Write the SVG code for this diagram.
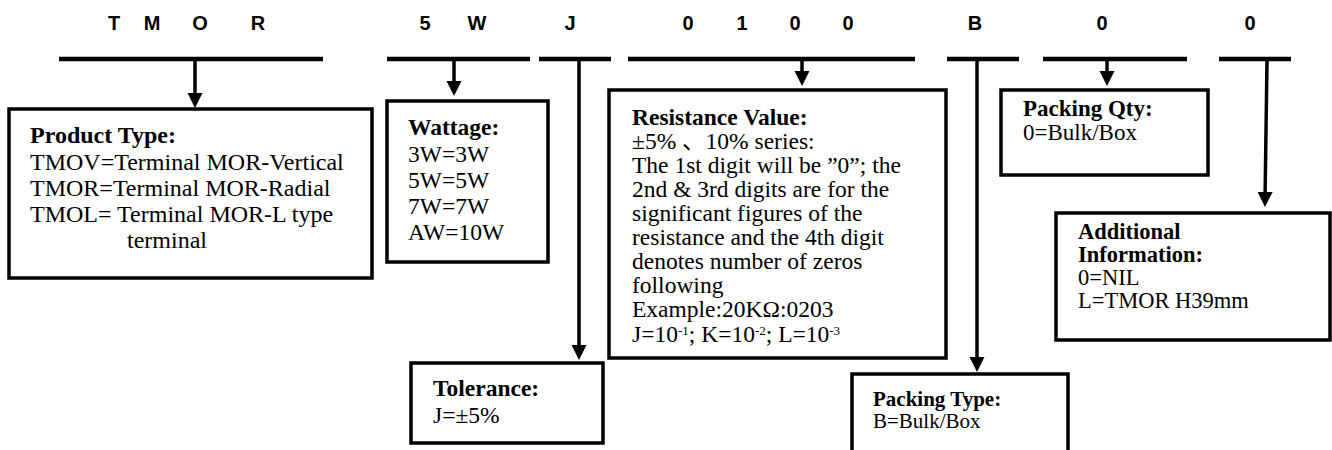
<svg xmlns="http://www.w3.org/2000/svg" width="1332" height="450" viewBox="0 0 1332 450">
<style>
.code{font-family:"Liberation Sans",Arial,sans-serif;font-weight:bold;font-size:20px;fill:#000;text-anchor:middle}
.box{fill:#fff;stroke:#000;stroke-width:3.5}
.t{font-family:"Liberation Serif","Times New Roman","Noto Sans CJK SC",serif;font-size:23.5px;fill:#000}
.b{font-weight:bold}
.sup{font-size:13px}
.bar{stroke:#000;stroke-width:4.5;fill:none}
.arr{stroke:#000;stroke-width:3.5;fill:none;marker-end:url(#ah)}
</style>
<defs>
<marker id="ah" markerUnits="userSpaceOnUse" markerWidth="16" markerHeight="16" viewBox="0 0 16 16" refX="9" refY="8" orient="auto">
<path d="M0,0.5 L15,8 L0,15.5 z" fill="#000"/>
</marker>
</defs>
<rect width="1332" height="450" fill="#fff"/>
<g id="code">
<text class="code" x="114" y="30">T</text>
<text class="code" x="152" y="30">M</text>
<text class="code" x="200" y="30">O</text>
<text class="code" x="258" y="30">R</text>
<text class="code" x="425" y="30">5</text>
<text class="code" x="477" y="30">W</text>
<text class="code" x="570" y="30">J</text>
<text class="code" x="688" y="30">0</text>
<text class="code" x="742" y="30">1</text>
<text class="code" x="795" y="30">0</text>
<text class="code" x="848" y="30">0</text>
<text class="code" x="975" y="30">B</text>
<text class="code" x="1102" y="30">0</text>
<text class="code" x="1250" y="30">0</text>
</g>
<g id="connectors">
<line class="bar" x1="59" y1="59" x2="323" y2="59"/>
<line class="bar" x1="387" y1="59" x2="530" y2="59"/>
<line class="bar" x1="539" y1="59" x2="611" y2="59"/>
<line class="bar" x1="628" y1="59" x2="915" y2="59"/>
<line class="bar" x1="947" y1="59" x2="1019" y2="59"/>
<line class="bar" x1="1043" y1="59" x2="1187" y2="59"/>
<line class="bar" x1="1219" y1="59" x2="1291" y2="59"/>
<line class="arr" x1="195" y1="60" x2="195" y2="102"/>
<line class="arr" x1="454" y1="60" x2="454" y2="90"/>
<line class="arr" x1="579" y1="60" x2="579" y2="354"/>
<line class="arr" x1="802" y1="60" x2="802" y2="80"/>
<line class="arr" x1="977" y1="60" x2="977" y2="366"/>
<line class="arr" x1="1107" y1="60" x2="1107" y2="80"/>
<line class="arr" x1="1267" y1="61" x2="1265" y2="201"/>
</g>
<g id="product-type">
<rect class="box" x="9" y="109" width="363" height="169"/>
<text class="t" x="30" y="143" style="font-size:24px"><tspan class="b">Product Type:</tspan><tspan x="30" y="169.5">TMOV=Terminal MOR-Vertical</tspan><tspan x="30" y="196">TMOR=Terminal MOR-Radial</tspan><tspan x="30" y="222">TMOL= Terminal MOR-L type</tspan><tspan x="127" y="248">terminal</tspan></text>
</g>
<g id="wattage">
<rect class="box" x="387" y="101" width="161" height="161"/>
<text class="t" x="408" y="135"><tspan class="b">Wattage:</tspan><tspan x="408" y="162">3W=3W</tspan><tspan x="408" y="188">5W=5W</tspan><tspan x="408" y="214">7W=7W</tspan><tspan x="408" y="240">AW=10W</tspan></text>
</g>
<g id="tolerance">
<rect class="box" x="411" y="363" width="192" height="80"/>
<text class="t" x="433" y="396"><tspan class="b">Tolerance:</tspan><tspan x="433" y="423">J=±5%</tspan></text>
</g>
<g id="resistance-value">
<rect class="box" x="609" y="90" width="337" height="268"/>
<text class="t" x="632" y="125"><tspan class="b">Resistance Value:</tspan><tspan x="632" y="149">±5% 、10% series:</tspan><tspan x="632" y="173">The 1st digit will be ”0”; the</tspan><tspan x="632" y="197">2nd &amp; 3rd digits are for the</tspan><tspan x="632" y="221">significant figures of the</tspan><tspan x="632" y="245">resistance and the 4th digit</tspan><tspan x="632" y="269">denotes number of zeros</tspan><tspan x="632" y="293">following</tspan><tspan x="632" y="317">Example:20KΩ:0203</tspan><tspan x="632" y="342">J=10</tspan><tspan class="sup" dy="-7">-1</tspan><tspan dy="7">; K=10</tspan><tspan class="sup" dy="-7">-2</tspan><tspan dy="7">; L=10</tspan><tspan class="sup" dy="-7">-3</tspan></text>
</g>
<g id="packing-type">
<rect class="box" x="852" y="374" width="216" height="90"/>
<text class="t" x="873" y="406" style="font-size:21px"><tspan class="b">Packing Type:</tspan><tspan x="873" y="428">B=Bulk/Box</tspan></text>
</g>
<g id="packing-qty">
<rect class="box" x="1001" y="90" width="207" height="85"/>
<text class="t" x="1023" y="116" style="font-size:23px"><tspan class="b">Packing Qty:</tspan><tspan x="1023" y="140">0=Bulk/Box</tspan></text>
</g>
<g id="additional-information">
<rect class="box" x="1056" y="213" width="274" height="127"/>
<text class="t" x="1078" y="239" style="font-size:22.5px"><tspan class="b">Additional</tspan><tspan class="b" x="1078" y="262">Information:</tspan><tspan x="1078" y="285">0=NIL</tspan><tspan x="1078" y="308">L=TMOR H39mm</tspan></text>
</g>
</svg>
